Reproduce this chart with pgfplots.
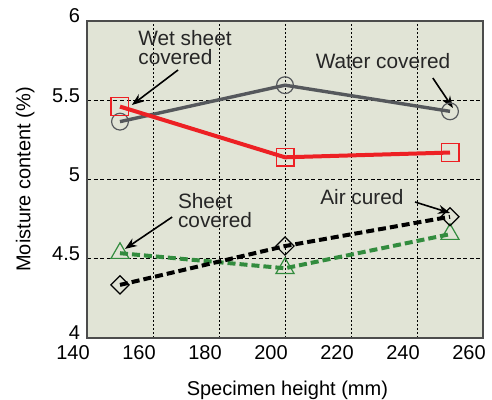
\documentclass[border=0pt]{standalone}
\usepackage{fontspec}
\setmainfont{Liberation Sans}
\usepackage{pgfplots}
\pgfplotsset{compat=1.18}
\usetikzlibrary{arrows.meta}
\definecolor{bgc}{RGB}{225,228,214}
\definecolor{wgray}{RGB}{85,88,92}
\definecolor{wred}{RGB}{237,32,36}
\definecolor{wgreen}{RGB}{50,140,62}
\begin{document}
\begin{tikzpicture}
\useasboundingbox (-43.5pt,-31pt) rectangle (202.5pt,169pt);
\begin{axis}[
  at={(0,0)}, anchor=south west,
  scale only axis, width=198pt, height=158.5pt,
  xmin=140, xmax=260, ymin=4, ymax=6,
  xtick={140,160,...,260}, ytick={4,4.5,5,5.5,6},
  major tick length=0pt,
  /pgf/number format/assume math mode=true,
  tick label style={font=\fontsize{10}{12}\selectfont},
  xticklabel style={xshift=-7pt},
  yticklabel style={yshift=2.5pt},
  label style={font=\fontsize{10.4}{12}\selectfont},
  xlabel={Specimen height (mm)},
  ylabel={Moisture content (\%)},
  every axis x label/.style={at={(axis description cs:0.506,-0.164)}, anchor=center},
  every axis y label/.style={at={(axis description cs:-0.156,0.5)}, rotate=90, anchor=center},
  axis background/.style={fill=bgc},
  axis line style={draw=black!70, line width=0.8pt},
  grid=major,
  x grid style={black, line width=0.5pt, dash pattern=on 1pt off 1pt},
  y grid style={black, line width=0.5pt, dash pattern=on 2pt off 1.3pt},
  clip=false,
]
\addplot[wgray, line width=1.7pt, mark=o, mark size=4.2pt,
  mark options={solid, line width=0.6pt, fill=none, draw=wgray}]
  coordinates {(150,5.365)(200,5.595)(250,5.43)};
\addplot[wred, line width=2pt, mark=square, mark size=4.4pt,
  mark options={solid, line width=0.7pt, fill=none, draw=wred}]
  coordinates {(150,5.46)(200,5.14)(250,5.17)};
\addplot[wgreen, line width=2pt, dash pattern=on 4pt off 2pt, mark=triangle, mark size=5.2pt,
  mark options={solid, line width=0.6pt, fill=none, draw=wgreen}]
  coordinates {(150,4.535)(200,4.44)(250,4.655)};
\addplot[black, line width=2pt, dash pattern=on 4pt off 2pt, mark=square, mark size=3.2pt,
  mark options={solid, line width=0.6pt, fill=none, rotate=45, draw=black}]
  coordinates {(150,4.335)(200,4.58)(250,4.765)};

\tikzset{ann/.style={font=\fontsize{10.4}{9.5}\selectfont, align=left, inner sep=0pt, text=black!85},
  arr/.style={black, line width=0.8pt, -{Stealth[length=6pt,width=4.5pt]}}}
\node[ann] at (axis cs:169.7,5.83) {Wet sheet\\covered};
\draw[arr] (axis cs:167.6,5.691) -- (axis cs:153.6,5.47);
\node[ann] at (axis cs:229.7,5.748) {Water covered};
\draw[arr] (axis cs:244.8,5.64) -- (axis cs:250.9,5.451);
\node[ann] at (axis cs:178.8,4.801) {Sheet\\covered};
\draw[arr] (axis cs:165.8,4.763) -- (axis cs:151.5,4.562);
\node[ann] at (axis cs:223.3,4.89) {Air cured};
\draw[arr] (axis cs:239.4,4.858) -- (axis cs:250,4.789);
\end{axis}
\end{tikzpicture}
\end{document}
